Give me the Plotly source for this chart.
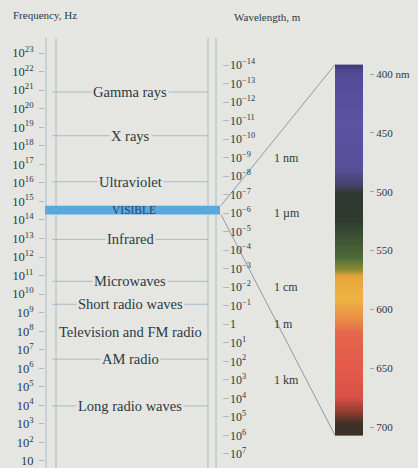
import numpy as np
import plotly.graph_objects as go

# ---------------- data ----------------
freq_exponents = list(range(23, 0, -1))          # 10^23 ... 10 Hz
freq_labels = ["10" if e == 1 else f"10<sup>{e}</sup>" for e in freq_exponents]

wave_exponents = list(range(-14, 8))               # 10^-14 ... 10^7 m
wave_labels = ["1" if e == 0 else f"10<sup>{'−' if e < 0 else ''}{abs(e)}</sup>" for e in wave_exponents]

unit_names = ["1 nm", "1 µm", "1 cm", "1 m", "1 km"]
unit_exponents = [-9, -6, -2, 0, 3]

band_names = ["Gamma rays", "X rays", "Ultraviolet", "Infrared", "Microwaves",
              "Short radio waves", "Television and FM radio", "AM radio", "Long radio waves"]
band_log_freq = [20.90, 18.54, 16.06, 12.95, 10.69, 9.45, 7.95, 6.49, 3.97]
band_has_line = [True, True, True, True, True, True, False, True, True]

visible_name = "VISIBLE"
visible_log_freq = [14.29, 14.77]

nm_ticks = [400, 450, 500, 550, 600, 650, 700]
nm_labels = ["400 nm", "450", "500", "550", "600", "650", "700"]
spectrum_nm_range = [392, 707]
spectrum_stops_nm = [392, 400, 440, 480, 494, 501, 525, 540, 556, 566, 572, 590, 608, 620, 650, 675, 688, 697, 707]
spectrum_colors = ['#3c3a78', '#544a96', '#5d52a0', '#5a4f9a', '#47426c', '#2e3731', '#2f3a30',
                   '#3f5334', '#4d6a37', '#8a8b35', '#e5a53a', '#edb443', '#e88e45', '#e4664c',
                   '#e45a4b', '#d95046', '#8a3a2e', '#3e3127', '#3a3026']

# ---------------- styling ----------------
W, H = 418, 468
BG = "#e5e5e2"
TXT = "#283a42"
LINE = "#a8bac6"
FONT = "Liberation Serif"

Y_RANGE = [0.622, 25.858]        # log10 frequency, bottom..top
Y2_RANGE = [7.76, -17.51]        # log10 wavelength, bottom..top
Y3_RANGE = [734.8, 337.1]        # nm, bottom..top


def f_to_pix(f):
    return (Y_RANGE[1] - f) / (Y_RANGE[1] - Y_RANGE[0]) * H


def pix_to_nm(p):
    return Y3_RANGE[1] + p / H * (Y3_RANGE[0] - Y3_RANGE[1])


fig = go.Figure()

# spectrum strip
edges = np.arange(spectrum_nm_range[0], spectrum_nm_range[1] + 1, 1.0)
centers = (edges[:-1] + edges[1:]) / 2
cs = [[(s - spectrum_nm_range[0]) / (spectrum_nm_range[1] - spectrum_nm_range[0]), c]
      for s, c in zip(spectrum_stops_nm, spectrum_colors)]
fig.add_trace(go.Heatmap(x=[335, 363], y=edges, z=centers.reshape(-1, 1),
                         colorscale=cs, zmin=spectrum_nm_range[0], zmax=spectrum_nm_range[1],
                         showscale=False, hoverinfo="skip", xaxis="x", yaxis="y3"))

# fan lines from visible band to spectrum ends
start_top = pix_to_nm(f_to_pix(visible_log_freq[1]))
start_bot = pix_to_nm(f_to_pix(visible_log_freq[0]))
for s, e in [(start_top, spectrum_nm_range[0]), (start_bot, spectrum_nm_range[1])]:
    fig.add_trace(go.Scatter(x=[221, 335], y=[s, e], mode="lines",
                             line=dict(color="#8c9ca8", width=1), hoverinfo="skip",
                             showlegend=False, xaxis="x", yaxis="y3"))

shapes = []
# vertical frame lines
for xv in [46, 56, 208, 216]:
    shapes.append(dict(type="line", xref="x", yref="paper", x0=xv, x1=xv, y0=0, y1=1 - 38 / H,
                       line=dict(color=LINE, width=1)))
# band lines
for f, has in zip(band_log_freq, band_has_line):
    if has:
        shapes.append(dict(type="line", xref="x", yref="y", x0=52, x1=208, y0=f, y1=f,
                           line=dict(color=LINE, width=1)))
# visible band
shapes.append(dict(type="rect", xref="x", yref="y", x0=45, x1=220,
                   y0=visible_log_freq[0], y1=visible_log_freq[1],
                   fillcolor="#5aa9dc", line=dict(width=0), layer="above"))

annotations = []
for name, f in zip(band_names, band_log_freq):
    annotations.append(dict(x=130, y=f, xref="x", yref="y", text=name, showarrow=False,
                            xanchor="center", yanchor="middle",
                            font=dict(family=FONT, size=14.5, color=TXT), bgcolor=BG, borderpad=1))
annotations.append(dict(x=134, y=sum(visible_log_freq) / 2, xref="x", yref="y", text=visible_name,
                        showarrow=False, xanchor="center", yanchor="middle",
                        font=dict(family=FONT, size=11.5, color="#24446a")))
for name, e in zip(unit_names, unit_exponents):
    annotations.append(dict(x=272, y=e, xref="x", yref="y2", text=name, showarrow=False,
                            xanchor="left", yanchor="middle",
                            font=dict(family=FONT, size=12, color=TXT)))
annotations.append(dict(x=11 / W, y=1 - 15 / H, xref="paper", yref="paper", text="Frequency, Hz",
                        showarrow=False, xanchor="left", yanchor="middle",
                        font=dict(family=FONT, size=11, color=TXT)))
annotations.append(dict(x=232 / W, y=1 - 17 / H, xref="paper", yref="paper", text="Wavelength, m",
                        showarrow=False, xanchor="left", yanchor="middle",
                        font=dict(family=FONT, size=11, color=TXT)))

fig.update_layout(
    width=W, height=H, autosize=False,
    margin=dict(l=0, r=0, t=0, b=0, pad=0, autoexpand=False),
    paper_bgcolor=BG, plot_bgcolor=BG,
    showlegend=False,
    xaxis=dict(range=[0, W], visible=False, domain=[0, 1], fixedrange=True, automargin=False),
    yaxis=dict(range=Y_RANGE, anchor="free", position=44 / W, side="left", automargin=False,
               tickvals=freq_exponents, ticktext=freq_labels, ticks="outside", ticklen=5,
               ticklabeloverflow="allow", ticklabelstandoff=3,
               tickcolor=LINE, showgrid=False, zeroline=False, showline=False,
               tickfont=dict(family=FONT, size=12.5, color=TXT)),
    yaxis2=dict(range=Y2_RANGE, overlaying="y", anchor="free", position=229 / W, side="right",
                automargin=False, ticklabeloverflow="allow",
                tickvals=wave_exponents, ticktext=wave_labels, ticks="inside", ticklen=6,
                tickcolor=LINE, showgrid=False, zeroline=False, showline=False,
                tickfont=dict(family=FONT, size=12, color=TXT)),
    yaxis3=dict(range=Y3_RANGE, overlaying="y", anchor="free", position=369 / W, side="right",
                automargin=False, ticklabeloverflow="allow",
                tickvals=nm_ticks, ticktext=nm_labels, ticks="outside", ticklen=4,
                tickcolor="#9aa6ae", showgrid=False, zeroline=False, showline=False,
                tickfont=dict(family=FONT, size=11, color=TXT)),
    shapes=shapes, annotations=annotations,
)

fig.write_html("out.html", config={"displayModeBar": False},
               post_script="document.body.style.margin='0';document.body.style.background='%s';" % BG)
